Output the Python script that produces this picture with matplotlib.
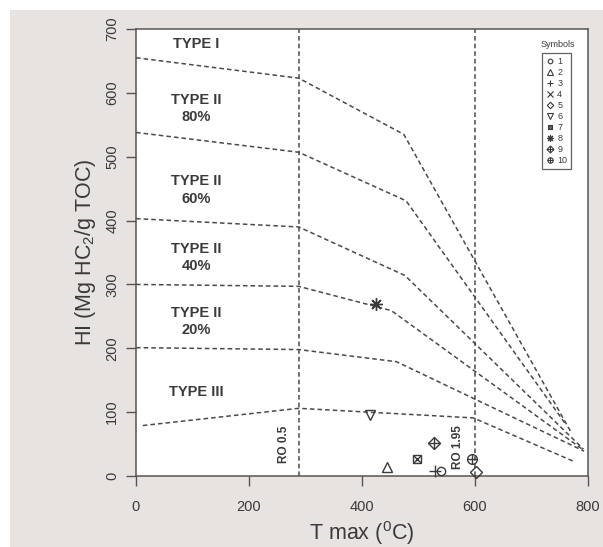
import matplotlib
matplotlib.use("Agg")
import matplotlib.pyplot as plt
from matplotlib.lines import Line2D
from matplotlib.patches import Rectangle
from matplotlib.legend_handler import HandlerTuple

plt.rcParams['font.family'] = ['Liberation Sans', 'DejaVu Sans']

# Kerogen type boundary lines (Tmax in degC, HI in mg HC/g TOC)
type_i_x = [0, 288, 474, 771]
type_i_y = [655, 623, 535, 67]
type_ii80_x = [0, 288, 478, 759]
type_ii80_y = [538, 507, 431, 83]
type_ii60_x = [0, 288, 476, 792]
type_ii60_y = [403, 390, 314, 42]
type_ii40_x = [0, 288, 452, 793]
type_ii40_y = [300, 297, 259, 40]
type_ii20_x = [0, 288, 461, 793]
type_ii20_y = [201, 198, 179, 39]
type_iii_x = [12, 288, 597, 777]
type_iii_y = [79, 106, 91, 22]

boundaries = [
    (type_i_x, type_i_y),
    (type_ii80_x, type_ii80_y),
    (type_ii60_x, type_ii60_y),
    (type_ii40_x, type_ii40_y),
    (type_ii20_x, type_ii20_y),
    (type_iii_x, type_iii_y),
]

# Maturity limits
ro_tmax = [288, 600]
ro_labels = ["RO 0.5", "RO 1.95"]

# Samples
sample_ids = ["1", "2", "3", "5", "6", "7", "8", "9", "10"]
sample_tmax = [540, 444, 530, 602, 415, 497, 425, 528, 594]
sample_hi = [8, 14, 8, 7, 95, 26, 269, 51, 26]

legend_ids = ["1", "2", "3", "4", "5", "6", "7", "8", "9", "10"]

# Zone labels
zone_labels = ["TYPE I", "TYPE II\n80%", "TYPE II\n60%", "TYPE II\n40%", "TYPE II\n20%", "TYPE III"]
zone_label_y = [676, 576, 448, 342, 242, 131]

ink = "#3a3a3a"
line_col = "#4a4a4a"

# R-style plotting symbols built from matplotlib markers (overlays for compound ones)
asterisk = (8, 2, 0)
symbol_parts = {
    "1": [("o", 6)],
    "2": [("^", 7)],
    "3": [("+", 8)],
    "4": [("x", 7)],
    "5": [("D", 6)],
    "6": [("v", 7)],
    "7": [("s", 6), ("x", 6)],
    "8": [(asterisk, 9)],
    "9": [("D", 6.5), ("+", 9)],
    "10": [("o", 7), ("+", 7)],
}

fig = plt.figure(figsize=(6.03, 5.47), dpi=100)
fig.patch.set_facecolor("white")
fig.patches.append(Rectangle((10 / 603, 0), 1, 1 - 10 / 547, transform=fig.transFigure,
                             facecolor="#e7e3e0", edgecolor="none", zorder=-10))

ax = fig.add_axes([136 / 603, 1 - 476 / 547, 452 / 603, 447 / 547])
ax.set_facecolor("white")
ax.set_xlim(0, 800)
ax.set_ylim(0, 700)

for xs, ys in boundaries:
    ax.plot(xs, ys, color=line_col, lw=1.1, ls=(0, (3, 2)))

for xv in ro_tmax:
    ax.axvline(xv, color=line_col, lw=1.1, ls=(0, (3, 2)))

ax.text(ro_tmax[0] - 26, 50, ro_labels[0], rotation=90, ha="center", va="center",
        fontsize=8.5, fontweight="bold", color=ink)
ax.text(ro_tmax[1] - 30, 46, ro_labels[1], rotation=90, ha="center", va="center",
        fontsize=8.5, fontweight="bold", color=ink)

for lab, yv in zip(zone_labels, zone_label_y):
    ax.text(107, yv, lab, ha="center", va="center", fontsize=10.5, fontweight="bold",
            color=ink, linespacing=1.3)

for sid, tx, hi in zip(sample_ids, sample_tmax, sample_hi):
    for m, ms in symbol_parts[sid]:
        ax.plot([tx], [hi], marker=m, ms=ms, mfc="none", mec=ink, mew=1.0,
                ls="none", clip_on=False, zorder=5)

handles = []
for sid in legend_ids:
    parts = tuple(Line2D([], [], marker=m, ms=ms * 0.55, mfc="none", mec=ink, mew=0.8, ls="none")
                  for m, ms in symbol_parts[sid])
    handles.append(parts)

leg = ax.legend(handles, legend_ids, loc="upper left", bbox_to_anchor=(0.898, 0.946),
                borderaxespad=0, fontsize=6.5, handlelength=0.9, handletextpad=0.35,
                labelspacing=0.22, borderpad=0.45, fancybox=False, frameon=True,
                handler_map={tuple: HandlerTuple(ndivide=1, pad=0)})
leg.get_frame().set_edgecolor(ink)
leg.get_frame().set_linewidth(0.9)
for t in leg.get_texts():
    t.set_color(ink)
ax.text(0.933, 0.965, "Symbols", transform=ax.transAxes, ha="center", va="center",
        fontsize=6.5, color=ink)

ax.set_xticks([0, 200, 400, 600, 800])
ax.set_yticks([0, 100, 200, 300, 400, 500, 600, 700])
ax.tick_params(axis="both", direction="out", length=7, width=1, colors="#555555",
               labelcolor=ink, labelsize=10.5)
ax.tick_params(axis="x", pad=10)
ax.tick_params(axis="y", pad=5)
for lab in ax.get_yticklabels():
    lab.set_rotation(90)
    lab.set_va("center")
for sp in ax.spines.values():
    sp.set_color("#555555")
    sp.set_linewidth(1.1)

ax.set_xlabel("T max ($\\mathregular{^0}$C)", fontsize=15.5, color=ink, labelpad=4)
ax.set_ylabel("HI (Mg HC$\\mathregular{_2}$/g TOC)", fontsize=15.5, color=ink, labelpad=5)

fig.savefig("out.png", dpi=100, facecolor=fig.get_facecolor())
